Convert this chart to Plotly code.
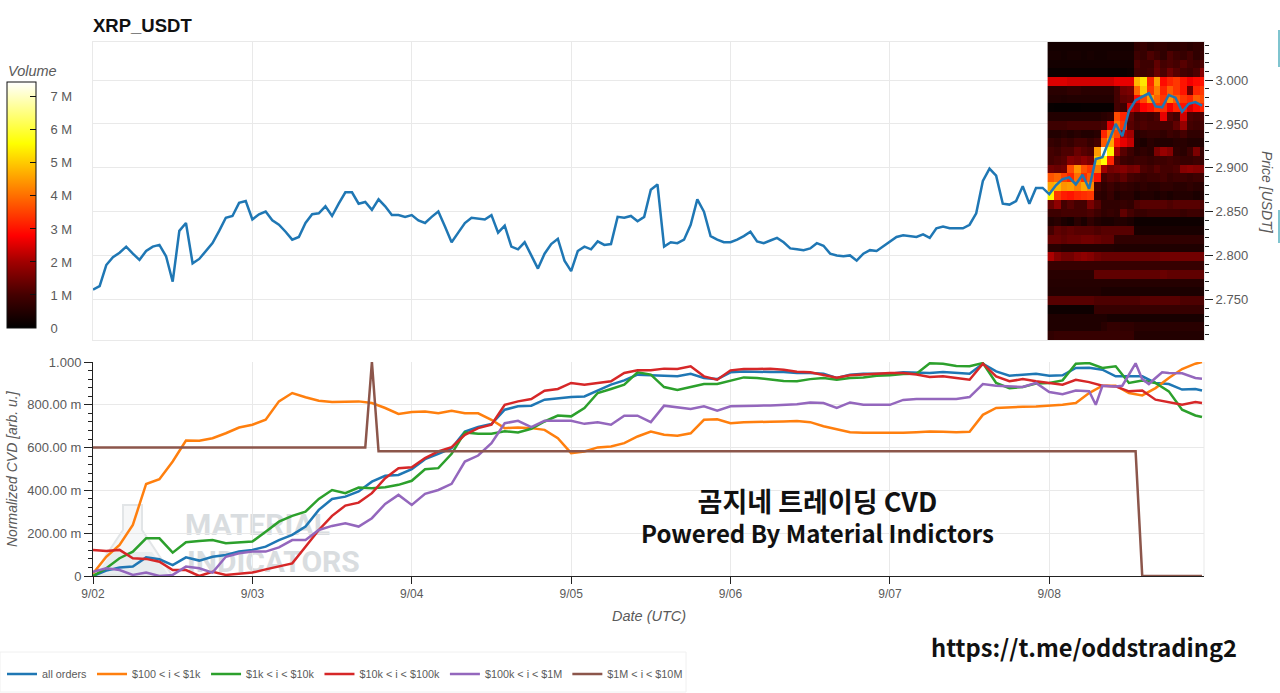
import pandas as pd
import plotly.graph_objects as go

START = pd.Timestamp("2025-09-02")

def when(hours):
    return [START + pd.Timedelta(hours=h) for h in hours]

price_hours = list(range(168))
price = [2.761,2.765,2.789,2.798,2.803,2.810,2.802,2.795,2.805,2.810,2.812,2.799,2.770,2.828,2.837,2.791,2.796,2.805,2.814,2.828,
2.843,2.845,2.860,2.862,2.841,2.847,2.850,2.840,2.835,2.827,2.818,2.821,2.837,2.847,2.848,2.856,2.845,2.859,2.872,2.872,
2.859,2.861,2.852,2.864,2.856,2.846,2.846,2.844,2.846,2.840,2.837,2.844,2.850,2.833,2.815,2.826,2.837,2.843,2.842,2.841,
2.846,2.826,2.834,2.810,2.807,2.815,2.800,2.785,2.802,2.813,2.819,2.794,2.782,2.805,2.810,2.807,2.816,2.812,2.813,2.844,
2.843,2.845,2.839,2.844,2.875,2.881,2.810,2.815,2.814,2.818,2.835,2.864,2.850,2.822,2.818,2.815,2.815,2.818,2.822,2.827,
2.816,2.814,2.817,2.820,2.815,2.808,2.807,2.806,2.808,2.814,2.811,2.802,2.800,2.799,2.800,2.794,2.802,2.806,2.805,2.810,
2.815,2.821,2.823,2.822,2.821,2.824,2.820,2.831,2.833,2.831,2.831,2.831,2.835,2.848,2.885,2.899,2.891,2.859,2.858,2.862,
2.879,2.859,2.877,2.877,2.870,2.880,2.887,2.889,2.881,2.892,2.876,2.910,2.912,2.932,2.950,2.936,2.965,2.977,2.981,2.985,
2.970,2.969,2.983,2.980,2.964,2.973,2.975,2.971]

cvd_hours = list(range(0, 167, 2)) + [167]
all_orders = [0,.025,.04,.044,.087,.078,.051,.087,.072,.09,.098,.114,.122,.137,.168,.192,.231,.309,.36,.371,
.395,.441,.468,.472,.499,.546,.571,.597,.675,.696,.71,.777,.793,.796,.824,.831,.836,.839,.867,.894,
.914,.941,.938,.936,.933,.945,.925,.92,.952,.956,.953,.953,.953,.949,.949,.945,.925,.941,.945,.945,
.945,.952,.952,.949,.953,.949,.945,.992,.956,.936,.941,.945,.936,.938,.972,.973,.964,.933,.933,.933,
.902,.897,.871,.874,.867]
orders_100_1k = [.012,.09,.145,.239,.43,.452,.535,.633,.632,.644,.667,.694,.707,.73,.816,.855,.835,.819,.813,.816,
.816,.808,.785,.757,.766,.769,.761,.772,.761,.76,.73,.691,.694,.691,.683,.644,.574,.582,.601,.605,
.621,.652,.675,.66,.655,.667,.73,.732,.714,.718,.721,.721,.722,.724,.719,.70,.686,.672,.669,.668,
.668,.669,.672,.675,.674,.672,.674,.753,.785,.789,.791,.792,.796,.80,.808,.855,.889,.889,.855,.844,
.878,.925,.967,.992,1.0]
orders_1k_10k = [0,.036,.083,.114,.176,.176,.109,.158,.164,.168,.153,.156,.161,.207,.254,.281,.301,.36,.402,.387,
.413,.41,.415,.426,.445,.499,.504,.571,.671,.665,.665,.676,.671,.688,.722,.75,.746,.785,.855,.874,
.894,.952,.941,.883,.869,.883,.897,.897,.914,.928,.925,.917,.911,.91,.92,.925,.917,.925,.928,.936,
.938,.944,.945,.994,.992,.981,.98,.995,.902,.878,.883,.899,.902,.914,.992,.995,.972,.98,.902,.914,
.902,.863,.777,.75,.743]
orders_10k_100k = [.122,.117,.122,.083,.08,.067,.028,.028,0,.02,.005,.009,.016,.031,.044,.059,.137,.215,.281,.329,
.343,.387,.457,.504,.508,.551,.582,.602,.66,.691,.707,.80,.816,.827,.866,.874,.902,.894,.902,.91,
.949,.961,.961,.969,.967,.98,.933,.917,.961,.967,.967,.969,.964,.955,.952,.939,.927,.938,.942,.947,
.949,.949,.942,.93,.933,.925,.917,.992,.933,.91,.92,.91,.902,.894,.917,.906,.889,.886,.863,.867,
.824,.811,.80,.813,.808]
purple_hours = list(range(0, 151, 2)) + [151,152,154,155,156,157,158,159,160,161,162,164,166,167]
orders_100k_1m = [.02,.036,.028,.005,.016,0,.005,.044,.036,.016,.09,.106,.114,.114,.134,.168,.168,.215,.234,.246,
.231,.27,.337,.379,.332,.384,.402,.431,.535,.563,.621,.714,.725,.696,.725,.725,.725,.711,.718,.707,
.749,.749,.719,.796,.789,.78,.793,.772,.793,.793,.796,.797,.80,.803,.811,.808,.785,.811,.80,.80,
.80,.823,.827,.827,.827,.827,.836,.897,.889,.886,.883,.902,.86,.849,.867,.863,.80,.889,.886,.889,
.94,.994,.92,.897,.925,.952,.949,.947,.925,.922]
brown_hours = [0,41,42,43,157,158,167]
orders_1m_10m = [.6,.6,1.0,.583,.583,0,0]

series = [
    ("all orders", cvd_hours, all_orders, "#1f77b4"),
    ("$100 < i < $1k", cvd_hours, orders_100_1k, "#ff7f0e"),
    ("$1k < i < $10k", cvd_hours, orders_1k_10k, "#2ca02c"),
    ("$10k < i < $100k", cvd_hours, orders_10k_100k, "#d62728"),
    ("$100k < i < $1M", purple_hours, orders_100k_1m, "#9467bd"),
    ("$1M < i < $10M", brown_hours, orders_1m_10m, "#8c564b"),
]
for _n, _h, _v, _c in series:
    assert len(_h) == len(_v), (_n, len(_h), len(_v))

heat_edges = [143.75 + i for i in range(25)]
heat_prices = [3.0385,3.0285,3.0185,3.0085,2.9985,2.9885,2.9785,2.9685,2.9585,2.9485,2.9385,2.9285,2.9185,2.9085,2.8985,2.8885,2.8785,
2.8685,2.8585,2.8485,2.8385,2.8285,2.8185,2.8085,2.7985,2.7885,2.7785,2.7685,2.7585,2.7485,2.7385,2.7285,2.7185,2.7085]
heat_volume = [
[.3,.3,.3,.3,.3,.3,.3,.3,.3,.3,.3,.3,.3,.7,.8,.6,.7,.7,.6,.6,.7,.6,.7,.7],
[.35,.35,.3,.35,.35,.3,.35,.3,.3,.35,.35,.35,.35,.9,.8,1.1,.9,.7,1.1,.9,.8,1.0,.7,.8],
[.3,.3,.3,.3,.3,.3,.3,.3,.3,.3,.3,.3,.3,1.1,.9,.9,1.3,1.0,1.1,1.0,1.2,1.0,.9,1.1],
[.15,.15,.15,.15,.15,.15,.15,.15,.15,.15,.15,.15,.2,1.0,.9,1.0,1.4,1.1,1.5,1.2,1.0,.9,1.1,1.7],
[2.5,2.5,2.5,2.4,2.4,2.4,2.4,2.4,2.4,2.4,2.6,2.6,2.6,4.8,5.3,3.2,4.6,2.9,3.2,3.4,3.0,2.7,2.9,3.0],
[.6,.6,.6,.7,.7,.6,.6,.6,.6,.6,1.0,1.5,1.6,3.9,5.0,3.4,4.2,3.2,3.8,3.4,3.0,1.5,3.2,3.4],
[.5,.5,.45,.5,.5,.5,.5,.5,.5,.5,1.0,1.3,1.4,2.9,3.6,4.5,3.9,3.4,4.4,3.8,3.4,3.2,3.8,3.6],
[.1,.08,.08,.08,.08,.1,.1,.1,.1,.1,1.0,.9,2.4,2.2,2.8,3.0,3.4,3.3,2.7,3.2,3.0,2.5,2.9,3.2],
[.5,.5,.5,.5,.5,.5,.5,.5,.6,.7,3.6,3.2,1.3,.9,1.0,.9,1.1,2.6,1.2,1.0,2.4,1.1,1.0,1.1],
[.9,.9,.9,1.0,1.0,1.0,1.0,1.0,1.1,2.5,4.0,3.4,1.2,1.0,1.1,1.0,1.0,1.0,1.0,1.3,1.9,1.0,.9,1.0],
[.5,.5,.6,.5,.6,.5,.5,.6,3.2,4.1,3.6,2.2,2.0,.6,.7,.8,.8,.7,.9,.8,1.0,.7,.7,.8],
[.8,.7,.9,.8,1.0,1.0,.8,1.0,3.8,4.6,3.0,2.6,2.3,.5,.4,.6,.5,.5,.5,.6,.6,.5,.5,.5],
[1.0,.9,1.1,1.1,1.4,1.2,1.1,4.5,7.2,5.5,2.0,1.2,.9,.6,.7,.6,1.6,1.9,1.7,.7,.6,.9,1.6,.8],
[1.0,1.1,1.2,1.7,1.6,1.8,1.6,5.0,5.6,3.2,1.2,.9,.8,.9,.9,.8,.9,.9,1.0,.9,.8,.8,.9,.8],
[1.5,1.4,1.5,3.6,4.4,3.7,3.4,4.1,2.0,1.5,1.6,1.7,1.5,1.6,1.1,1.0,1.2,1.0,1.0,1.1,1.7,1.8,1.7,1.7],
[3.7,3.9,3.5,3.2,4.0,3.3,3.8,3.0,1.0,1.2,1.1,1.3,1.0,.9,.8,.9,.9,1.0,.8,.9,.9,.8,.9,.9],
[4.6,4.8,4.4,4.5,4.2,4.6,4.3,1.0,.7,.9,.7,.8,.7,.6,.7,.6,.6,.7,.7,.6,.6,.7,.6,.6],
[5.5,3.4,3.1,3.0,3.2,3.3,3.4,.7,.6,.8,.5,.6,.6,.4,.5,.5,.4,.5,.4,.5,.5,.5,.4,.5],
[1.4,1.8,1.0,1.2,1.0,1.0,1.6,1.2,.7,.7,.7,.8,.7,1.1,1.2,1.2,1.2,1.2,1.1,1.2,1.2,1.2,1.2,1.1],
[.9,.9,1.0,1.0,1.0,1.0,1.1,.9,.7,.8,.7,1.3,1.0,.8,.8,.9,.9,.9,.9,.9,.8,.9,.9,.8],
[.5,.6,.4,.3,.6,.4,.7,.5,.4,.4,.5,.5,.4,.2,.2,.2,.2,.2,.2,.2,.2,.2,.2,.2],
[1.0,1.3,1.2,1.3,1.2,1.2,1.2,1.1,1.2,1.2,1.2,1.2,1.2,.35,.35,.35,.35,.35,.35,.35,.35,.35,.35,.35],
[1.4,1.4,1.3,1.4,1.4,1.5,1.5,1.4,1.3,1.3,.7,.7,.7,.7,.7,.7,.7,.7,.7,.7,.7,.7,.7,.7],
[.6,.6,.5,.5,.5,.5,.5,.5,.5,.5,.45,.45,.45,.45,.45,.45,.45,.45,.45,.45,.45,.45,.45,.45],
[2.1,1.7,1.5,1.5,1.7,1.8,1.7,1.5,1.4,1.4,1.4,1.4,1.4,1.4,1.4,1.4,1.4,1.5,1.5,1.5,1.5,1.5,1.5,1.5],
[.8,.8,.8,.8,.8,.8,.8,.8,.8,.8,.8,.8,.8,.8,.8,.8,.8,.8,.8,.8,.8,.8,.8,.8],
[.6,.6,.6,.6,.6,.6,.6,1.3,1.3,1.3,1.3,1.3,1.3,1.3,1.3,1.3,1.3,1.4,1.3,1.3,1.3,1.3,1.3,1.3],
[.55,.55,.55,.55,.55,.55,.55,.55,.55,.55,.55,.55,.55,.55,.55,.55,.55,.55,.55,.55,.55,.55,.55,.55],
[.5,.5,.5,.5,.5,.5,.5,.5,.4,.4,.4,.4,.4,.4,.4,.4,.4,.4,.4,.4,.4,.4,.4,.4],
[1.2,1.2,1.2,1.2,1.2,1.2,1.2,1.1,1.1,1.1,1.1,1.1,1.1,1.1,1.2,1.2,1.2,1.2,1.2,1.2,1.1,1.1,1.1,1.1],
[.2,.2,.2,.2,.2,.2,.2,.8,.8,.8,.8,.8,.8,.8,.8,.8,.8,.8,.8,.8,.8,.8,.8,.8],
[.45,.45,.45,.45,.45,.45,.45,.45,.45,.35,.35,.35,.35,.35,.35,.35,.35,.35,.35,.35,.35,.35,.35,.35],
[.45,.45,.45,.45,.45,.45,.45,.45,.6,.75,.75,.7,.7,.6,.6,.6,.6,.6,.6,.6,.6,.6,.6,.6],
[.7,.8,.8,.8,.8,.8,.8,.8,.8,.8,.8,.8,.8,.5,.5,.5,.5,.5,.5,.5,.5,.5,.5,.5],
]
volume_ticks = [0,1,2,3,4,5,6,7]
volume_labels = ["0","1 M","2 M","3 M","4 M","5 M","6 M","7 M"]
price_ticks = [2.75,2.80,2.85,2.90,2.95,3.00]
price_labels = ["2.750","2.800","2.850","2.900","2.950","3.000"]
cvd_ticks = [0,.2,.4,.6,.8,1.0]
cvd_labels = ["0","200.00 m","400.00 m","600.00 m","800.00 m","1.000"]

FONT = "Liberation Sans"
GREY = "#5a5a5a"
GRID = "#e9e9e9"
KOREAN = "Noto Sans CJK KR"
X_END = START + pd.Timedelta(hours=167.3)

def px(x):
    return (x - 93) / 1111
def py(y):
    return (576 - y) / 534

fig = go.Figure()
fig.add_trace(go.Heatmap(
    x=when(heat_edges), y=heat_prices, z=heat_volume, xaxis="x", yaxis="y", zmin=0, zmax=7.45,
    colorscale=[[0,"#000000"],[.134,"#440000"],[.268,"#a00000"],[.375,"#ff0000"],[.75,"#ffff00"],[1,"#ffffff"]],
    showlegend=False, hoverinfo="skip",
    colorbar=dict(
        xref="paper", yref="paper", x=px(7), xanchor="left", y=py(328), yanchor="bottom",
        lenmode="pixels", len=246, thicknessmode="pixels", thickness=29, xpad=0, ypad=0,
        outlinecolor="#111111", outlinewidth=1, ticks="inside", ticklen=6, tickcolor="#111111",
        tickvals=volume_ticks, ticktext=["\u00a0\u00a0\u00a0"+t for t in volume_labels],
        tickfont=dict(family=FONT, size=13, color=GREY),
    ),
))
fig.add_trace(go.Scatter(x=when(price_hours), y=price, mode="lines", xaxis="x", yaxis="y",
                         line=dict(color="#1f77b4", width=2.5), showlegend=False))
for name, hrs, vals, col in series:
    fig.add_trace(go.Scatter(x=when(hrs), y=vals, mode="lines", name=name, xaxis="x2", yaxis="y2",
                             line=dict(color=col, width=2.5)))

shapes = [
    dict(type="path", xref="paper", yref="paper", layer="below",
         path=f"M {px(123)} {py(505)} L {px(142)} {py(505)} L {px(142)} {py(530)} L {px(172)} {py(575)} L {px(93)} {py(575)} L {px(123)} {py(530)} Z",
         fillcolor="#f6f7f8", line=dict(color="#e2e5e7", width=2)),
    dict(type="path", xref="paper", yref="paper", layer="below",
         path=f"M {px(112)} {py(552)} L {px(152)} {py(552)} L {px(168)} {py(574)} L {px(97)} {py(574)} Z",
         fillcolor="#e8edef", line=dict(width=0)),
    dict(type="rect", xref="paper", yref="paper", layer="below", x0=px(182), x1=px(330), y0=py(536), y1=py(509),
         line=dict(width=0), fillcolor="rgba(0,0,0,0)",
         label=dict(text="<b>MATERIAL</b>", font=dict(family="Roboto", size=30, color="#d9dde0"), textposition="middle left", padding=0)),
    dict(type="rect", xref="paper", yref="paper", layer="below", x0=px(184), x1=px(360), y0=py(573), y1=py(546),
         line=dict(width=0), fillcolor="rgba(0,0,0,0)",
         label=dict(text="<b>INDICATORS</b>", font=dict(family="Roboto", size=30, color="#d9dde0"), textposition="middle left", padding=0)),
    dict(type="line", xref="paper", yref="paper", x0=1, x1=1, y0=0, y1=py(362), line=dict(color=GRID, width=1), layer="below"),
    dict(type="line", xref="paper", yref="paper", x0=px(1279), x1=px(1279), y0=py(67), y1=py(30), line=dict(color="#7fc4cf", width=2)),
    dict(type="line", xref="paper", yref="paper", x0=px(1279), x1=px(1279), y0=py(243), y1=py(210), line=dict(color="#7fc4cf", width=2)),
    dict(type="rect", xref="paper", yref="paper", layer="below", x0=px(0), x1=px(686), y0=py(692), y1=py(652),
         line=dict(color="#f0f0f0", width=1), fillcolor="white"),
]

def note(text, x, y, size, family=FONT, color="#111111", weight=None, angle=0, anchor="center"):
    return dict(text=text, xref="paper", yref="paper", x=px(x), y=py(y), xanchor=anchor, yanchor="middle",
                showarrow=False, textangle=angle, font=dict(family=family, size=size, color=color, weight=weight))

annotations = [
    note("<b>XRP_USDT</b>", 91, 26, 18.5, anchor="left"),
    note("<span style='font-size:27px'>곰지네 트레이딩 CVD</span><br>Powered By Material Indictors", 817, 515, 24, family=KOREAN, weight=700),
    note("https://t.me/oddstrading2", 1084, 647, 23.7, family=KOREAN, weight=700),
    note("<i>Volume</i>", 6, 71, 14.5, color=GREY, anchor="left"),
    note("<i>Price [USDT]</i>", 1267, 192, 14, color=GREY, angle=90),
    note("<i>Normalized CVD [arb. u.]</i>", 12, 469, 14, color=GREY, angle=-90),
    note("<i>Date (UTC)</i>", 649, 616, 14.5, color=GREY),
]

fig.update_layout(
    width=1280, height=693, margin=dict(l=93, r=76, t=42, b=117, autoexpand=False),
    paper_bgcolor="white", plot_bgcolor="white", font=dict(family=FONT, size=12, color=GREY),
    shapes=shapes, annotations=annotations,
    legend=dict(orientation="h", x=px(2), xanchor="left", y=py(674), yanchor="middle",
                borderwidth=0, bgcolor="rgba(0,0,0,0)", font=dict(family=FONT, size=10.8, color=GREY),
                itemwidth=30, tracegroupgap=0),
    xaxis=dict(domain=[0,1], anchor="y", range=[START, X_END], type="date", dtick=86400000, tick0=START,
               showticklabels=False, ticks="", showgrid=True, gridcolor=GRID, showline=True, linecolor=GRID,
               mirror=True, zeroline=False),
    yaxis=dict(domain=[py(340),1], anchor="x", side="right", range=[2.7035,3.0435], tickmode="array",
               tickvals=price_ticks, ticktext=price_labels, ticks="outside", ticklen=8, tickcolor="#222222",
               tickfont=dict(size=13), showgrid=True, gridcolor=GRID, showline=True, linecolor=GRID, mirror=True,
               zeroline=False,
               minor=dict(tick0=2.7, dtick=.01, ticks="outside", ticklen=4, tickcolor="#222222", showgrid=False)),
    xaxis2=dict(domain=[0,1], anchor="y2", range=[START, X_END], type="date", dtick=86400000, tick0=START,
                tickformat="%-m/%d", ticks="outside", ticklen=7, tickcolor="#222222", showgrid=True, gridcolor=GRID,
                showline=True, linecolor="#222222", zeroline=False, tickfont=dict(size=12)),
    yaxis2=dict(domain=[0,py(362)], anchor="x2", range=[0,1], tickmode="array", tickvals=cvd_ticks, ticktext=cvd_labels,
                ticks="outside", ticklen=8, tickcolor="#222222", showgrid=True, gridcolor=GRID, showline=True,
                linecolor="#222222", zeroline=False, tickfont=dict(size=13),
                minor=dict(tick0=0, dtick=.04, ticks="outside", ticklen=4, tickcolor="#222222", showgrid=False)),
)
fig.write_html("out.html", config={"displayModeBar": False}, post_script="document.body.style.margin='0';")
